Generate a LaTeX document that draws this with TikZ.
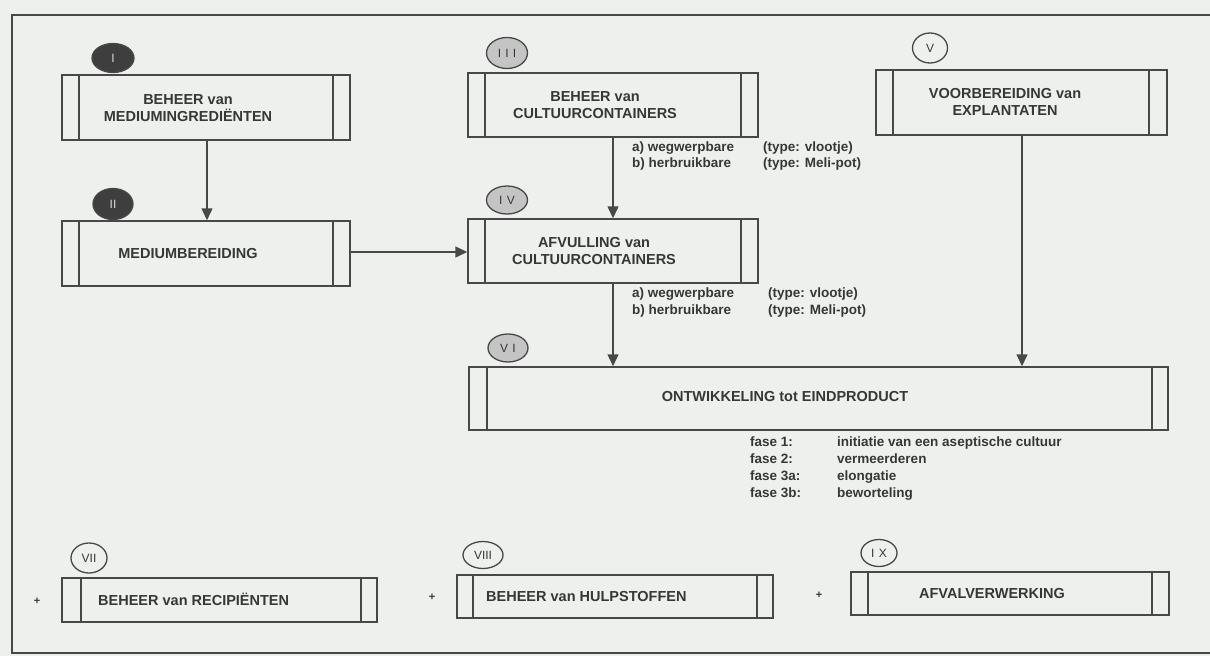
\documentclass[tikz,border=0pt]{standalone}
\usepackage{fontspec}
\setmainfont{Liberation Sans}
\usetikzlibrary{arrows.meta,shapes.geometric,fit}
\definecolor{bg}{RGB}{237,240,237}
\definecolor{ink}{RGB}{72,72,72}
\definecolor{txt}{RGB}{55,55,55}
\definecolor{darkc}{RGB}{62,62,62}
\definecolor{midfill}{RGB}{196,196,196}
\tikzset{
 ln/.style={draw=ink, line width=1.5pt},
 boxst/.style={ln, rectangle, inner sep=0pt},
 ttl/.style={font=\fontsize{14.5}{17}\selectfont\bfseries, text=txt, align=center, inner sep=0pt},
 sml/.style={font=\fontsize{13.5}{17}\selectfont\bfseries, text=txt, inner sep=0pt, anchor=west, text height=10pt, text depth=3pt},
 roman/.style={ellipse, draw=ink, line width=1.3pt, inner sep=0pt, font=\fontsize{12}{14}\selectfont, text=txt},
 spaced/.style={font=\fontsize{12}{14}\selectfont\addfontfeature{LetterSpace=35}},
 darkcirc/.style={roman, fill=darkc, text=white!85!black},
 graycirc/.style={roman, fill=midfill},
 whitecirc/.style={roman, fill=bg},
 arr/.style={ln, -{Triangle[length=12pt,width=11pt]}},
 plus/.style={font=\fontsize{11}{12}\selectfont\bfseries, text=txt, inner sep=0pt},
}
\newcommand\bbox[7]{%
 \node[boxst, fit={(#2,#3) (#4,#5)}] (#1) {};
 \draw[ln] (#6,#3) -- (#6,#5);
 \draw[ln] (#7,#3) -- (#7,#5);}
\begin{document}
\begin{tikzpicture}[x=1pt,y=-1pt]
\fill[bg] (0,0) rectangle (1210,656);
\useasboundingbox (0,0) rectangle (1210,656);
\draw[ln] (1215,15) -- (12,15) -- (12,653) -- (1215,653);

% boxes
\bbox{b1}{62}{75}{350}{140}{79}{333}
\bbox{b2}{62}{221}{350}{286}{79}{333}
\bbox{b3}{468}{73}{758}{137}{485}{741}
\bbox{b4}{468}{219}{758}{283}{485}{741}
\bbox{b5}{876}{70}{1167}{135}{893}{1149}
\bbox{b6}{469}{367}{1168}{430}{487}{1152}
\bbox{b7}{62}{578}{377}{622}{81}{361}
\bbox{b8}{457}{575}{773}{618}{473}{757}
\bbox{b9}{851}{572}{1169}{615}{868}{1152}

% circles
\node[darkcirc, minimum width=42pt, minimum height=29pt] (c1) at (113,58) {I};
\node[darkcirc, minimum width=40pt, minimum height=31pt] (c2) at (113,204) {II};
\node[graycirc, spaced, minimum width=41pt, minimum height=31pt] (c3) at (507,53) {III};
\node[graycirc, spaced, minimum width=41pt, minimum height=28pt] (c4) at (507,200) {IV};
\node[whitecirc, minimum width=35pt, minimum height=30pt] (c5) at (930,48) {V};
\node[graycirc, spaced, minimum width=40pt, minimum height=28pt] (c6) at (508,348) {VI};
\node[whitecirc, minimum width=36pt, minimum height=30pt] (c7) at (89,558) {VII};
\node[whitecirc, minimum width=40pt, minimum height=27pt] (c8) at (483,555) {VIII};
\node[whitecirc, spaced, minimum width=36pt, minimum height=27pt] (c9) at (879,553) {IX};

% titles
\node[ttl] (t1) at (188,108.5) {BEHEER van\\MEDIUMINGREDIËNTEN};
\node[ttl] (t2) at (188,254) {MEDIUMBEREIDING};
\node[ttl] (t3) at (595,105) {BEHEER van\\CULTUURCONTAINERS};
\node[ttl] (t4) at (594,251.5) {AFVULLING van\\CULTUURCONTAINERS};
\node[ttl] (t5) at (1005,102) {VOORBEREIDING van\\EXPLANTATEN};
\node[ttl] (t6) at (785,397) {ONTWIKKELING tot EINDPRODUCT};
\node[ttl, anchor=west, text height=10.5pt, text depth=0pt] (t7) at (98,600) {BEHEER van RECIPIËNTEN};
\node[ttl, anchor=west, text height=10.5pt, text depth=0pt] (t8) at (486,596) {BEHEER van HULPSTOFFEN};
\node[ttl] (t9) at (992,594) {AFVALVERWERKING};

% plus signs
\node[plus] (p7) at (37,601) {+};
\node[plus] (p8) at (432,597) {+};
\node[plus] (p9) at (819,595) {+};

% small labels
\node[sml] (la3) at (632,148) {a) wegwerpbare};
\node[sml] (lb3) at (632,164) {b) herbruikbare};
\node[sml] (ta3) at (763,148) {(type: vlootje)};
\node[sml] (tb3) at (763,164) {(type: Meli-pot)};
\node[sml] (la4) at (632,294) {a) wegwerpbare};
\node[sml] (lb4) at (632,311) {b) herbruikbare};
\node[sml] (ta4) at (768,294) {(type: vlootje)};
\node[sml] (tb4) at (768,311) {(type: Meli-pot)};

\node[sml] (f1) at (750,443) {fase 1:};
\node[sml] (f2) at (750,460) {fase 2:};
\node[sml] (f3) at (750,477) {fase 3a:};
\node[sml] (f4) at (750,494) {fase 3b:};
\node[sml] (g1) at (837,443) {initiatie van een aseptische cultuur};
\node[sml] (g2) at (837,460) {vermeerderen};
\node[sml] (g3) at (837,477) {elongatie};
\node[sml] (g4) at (837,494) {beworteling};

% connectors
\draw[arr] (b1.south -| 207,0) -- (b2.north -| 207,0);
\draw[arr] (b3.south -| 613,0) -- (b4.north -| 613,0);
\draw[arr] (b4.south -| 613,0) -- (b6.north -| 613,0);
\draw[arr] (b5.south -| 1022,0) -- (b6.north -| 1022,0);
\draw[arr] (b2.east |- 0,252) -- (b4.west |- 0,252);
\end{tikzpicture}
\end{document}
